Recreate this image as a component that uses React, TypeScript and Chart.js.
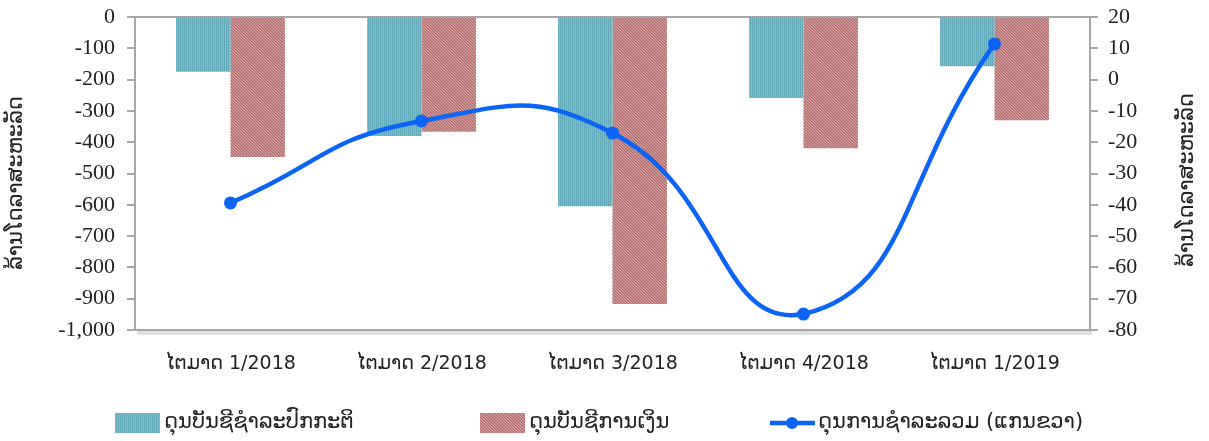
import React, { useEffect, useRef } from "react";
import { Chart, registerables } from "chart.js";

Chart.register(...registerables);

const categories = ["ໄຕມາດ 1/2018", "ໄຕມາດ 2/2018", "ໄຕມາດ 3/2018", "ໄຕມາດ 4/2018", "ໄຕມາດ 1/2019"];
const currentAccount = [-175, -380, -605, -259, -157];
const financialAccount = [-447, -367, -917, -419, -330];
const overallBalance = [-39.4, -13.2, -17.1, -74.9, 11.4];
const seriesNames = ["ດຸນບັນຊີຊຳລະປົກກະຕິ", "ດຸນບັນຊີການເງິນ", "ດຸນການຊຳລະລວມ (ແກນຂວາ)"];
const axisTitle = "ລ້ານໂດລາສະຫະລັດ";

const LAO_FONT = "'DejaVu Sans', sans-serif";
const SERIF_FONT = "'Liberation Serif', 'Times New Roman', serif";
const LINE_COLOR = "#0A64F5";

function makeBluePattern(ctx: CanvasRenderingContext2D): CanvasPattern | string {
  const c = document.createElement("canvas");
  c.width = 2;
  c.height = 2;
  const g = c.getContext("2d")!;
  g.fillStyle = "#62A9BA";
  g.fillRect(0, 0, 1, 2);
  g.fillStyle = "#7FBBC9";
  g.fillRect(1, 0, 1, 2);
  return ctx.createPattern(c, "repeat") || "#6FB1C1";
}

function makeRedPattern(ctx: CanvasRenderingContext2D): CanvasPattern | string {
  const c = document.createElement("canvas");
  const n = 3;
  c.width = n;
  c.height = n;
  const g = c.getContext("2d")!;
  g.fillStyle = "#D6AAAA";
  g.fillRect(0, 0, n, n);
  g.fillStyle = "#AE6666";
  for (let i = 0; i < n; i++) g.fillRect(i, i, 1, 1);
  g.fillStyle = "#BE7E7E";
  for (let i = 0; i < n; i++) g.fillRect((i + 1) % n, i, 1, 1);
  return ctx.createPattern(c, "repeat") || "#C48C8C";
}

function fixVertical(width: number) {
  return (scale: any) => {
    scale.width = width;
    scale.paddingTop = 0;
    scale.paddingBottom = 0;
  };
}

export default function App() {
  const ref = useRef<HTMLCanvasElement | null>(null);

  useEffect(() => {
    const canvas = ref.current!;
    const ctx = canvas.getContext("2d")!;
    const bluePat = makeBluePattern(ctx);
    const redPat = makeRedPattern(ctx);

    const decor = {
      id: "decor",
      beforeDatasetsDraw(chart: any) {
        const { ctx: c, chartArea } = chart;
        c.save();
        c.strokeStyle = "rgba(0,0,0,0.12)";
        c.lineWidth = 4;
        c.beginPath();
        c.moveTo(chartArea.left + 2, chartArea.bottom + 3);
        c.lineTo(chartArea.right + 2, chartArea.bottom + 3);
        c.stroke();
        c.restore();
      },
      afterDraw(chart: any) {
        const c: CanvasRenderingContext2D = chart.ctx;
        c.save();
        c.fillStyle = "#222";
        c.font = `21px ${LAO_FONT}`;
        c.textAlign = "center";
        c.textBaseline = "middle";
        c.save();
        c.translate(17, 183);
        c.rotate(-Math.PI / 2);
        c.fillText(axisTitle, 0, 0);
        c.restore();
        c.save();
        c.translate(1188, 180);
        c.rotate(-Math.PI / 2);
        c.fillText(axisTitle, 0, 0);
        c.restore();

        const ly = 423;
        c.font = `21px ${LAO_FONT}`;
        c.textAlign = "left";
        c.textBaseline = "middle";
        c.fillStyle = bluePat as any;
        c.fillRect(115, 413, 45, 20);
        c.fillStyle = "#222";
        c.fillText(seriesNames[0], 164, ly);
        c.fillStyle = redPat as any;
        c.fillRect(480, 413, 45, 20);
        c.fillStyle = "#222";
        c.fillText(seriesNames[1], 529, ly);
        c.strokeStyle = LINE_COLOR;
        c.lineWidth = 4.5;
        c.beginPath();
        c.moveTo(770, ly);
        c.lineTo(815, ly);
        c.stroke();
        c.fillStyle = LINE_COLOR;
        c.beginPath();
        c.arc(792, ly, 6, 0, Math.PI * 2);
        c.fill();
        c.fillStyle = "#222";
        c.fillText(seriesNames[2], 818, ly);
        c.restore();
      },
    };

    const chart = new Chart(canvas, {
      type: "bar",
      data: {
        labels: categories,
        datasets: [
          {
            type: "line",
            label: seriesNames[2],
            data: overallBalance,
            yAxisID: "y1",
            borderColor: LINE_COLOR,
            backgroundColor: LINE_COLOR,
            borderWidth: 4.5,
            pointRadius: 6.5,
            pointBackgroundColor: LINE_COLOR,
            pointBorderWidth: 0,
            tension: 0.5,
            order: 0,
          } as any,
          {
            type: "bar",
            label: seriesNames[0],
            data: currentAccount,
            yAxisID: "y",
            backgroundColor: bluePat as any,
            borderWidth: 0,
            categoryPercentage: 0.57,
            barPercentage: 1.0,
            order: 1,
          },
          {
            type: "bar",
            label: seriesNames[1],
            data: financialAccount,
            yAxisID: "y",
            backgroundColor: redPat as any,
            borderWidth: 0,
            categoryPercentage: 0.57,
            barPercentage: 1.0,
            order: 1,
          },
        ],
      },
      options: {
        animation: false,
        responsive: false,
        maintainAspectRatio: false,
        devicePixelRatio: 1,
        layout: { padding: { top: 17, left: 0, right: 0, bottom: 0 } },
        plugins: {
          legend: { display: false },
          tooltip: { enabled: false },
        },
        scales: {
          x: {
            offset: true,
            grid: { display: false },
            border: { display: true, color: "#A6A6A6", width: 2 },
            ticks: {
              color: "#222",
              font: { family: LAO_FONT, size: 19 },
              padding: 15,
              maxRotation: 0,
              autoSkip: false,
            },
            afterFit(scale: any) {
              scale.height = 111;
              scale.paddingLeft = 0;
              scale.paddingRight = 0;
            },
          },
          y: {
            position: "left",
            min: -1000,
            max: 0,
            ticks: {
              stepSize: 100,
              color: "#222",
              font: { family: SERIF_FONT, size: 22 },
              padding: 12,
              callback: (v: any) => Number(v).toLocaleString("en-US"),
            },
            grid: {
              color: (c: any) => (c.tick && c.tick.value === 0 ? "#A6A6A6" : "rgba(0,0,0,0)"),
              lineWidth: 2,
              tickColor: "#A6A6A6",
              tickLength: 8,
              drawOnChartArea: true,
            },
            border: { display: true, color: "#A6A6A6", width: 2 },
            afterFit: fixVertical(135),
          },
          y1: {
            position: "right",
            min: -80,
            max: 20,
            ticks: {
              stepSize: 10,
              color: "#222",
              font: { family: SERIF_FONT, size: 22 },
              padding: 10,
            },
            grid: {
              drawOnChartArea: false,
              tickColor: "#A6A6A6",
              tickLength: 8,
              lineWidth: 2,
            },
            border: { display: true, color: "#A6A6A6", width: 2 },
            afterFit: fixVertical(119),
          },
        },
      },
      plugins: [decor],
    });
    return () => chart.destroy();
  }, []);

  return (
    <div style={{ position: "absolute", left: 0, top: 0, width: 1209, height: 441, background: "#fff" }}>
      <canvas ref={ref} width={1209} height={441} style={{ width: 1209, height: 441, display: "block" }} />
    </div>
  );
}
